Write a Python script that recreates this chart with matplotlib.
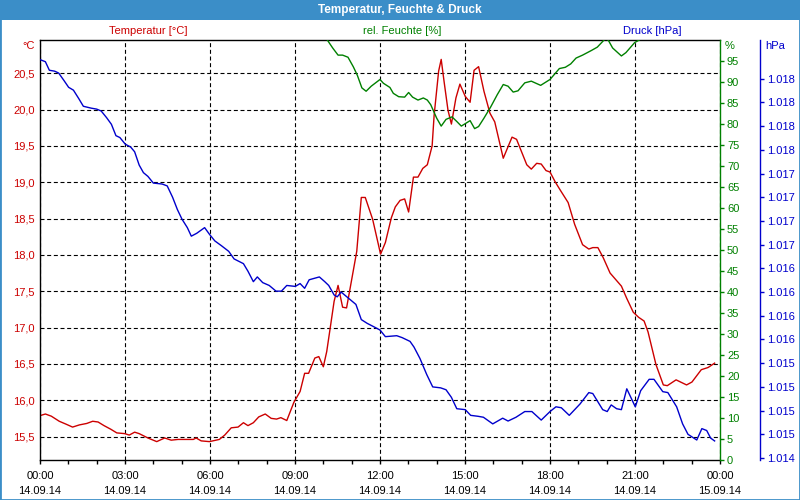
import numpy as np
import matplotlib
matplotlib.use('Agg')
import matplotlib.pyplot as plt
from matplotlib.patches import Rectangle
from matplotlib.ticker import MultipleLocator

plt.rcParams['font.family'] = ['Liberation Sans', 'DejaVu Sans']
plt.rcParams['font.size'] = 8

RED = '#cc0000'
GREEN = '#008000'
BLUE = '#0000cc'
BAR = '#3b8ec8'

# Temperatur [°C], Zeit in Stunden ab 14.09.14 00:00
t_temp = [0.02, 0.19, 0.40, 0.68, 0.92, 1.15, 1.39, 1.65, 1.86, 2.05, 2.26, 2.50, 2.71, 2.99,
          3.15, 3.34, 3.50, 3.81, 4.12, 4.40, 4.63, 4.87, 5.41, 5.51, 5.69, 5.98, 6.33, 6.52,
          6.75, 6.99, 7.18, 7.34, 7.53, 7.72, 7.95, 8.16, 8.35, 8.50, 8.71, 8.96, 9.18, 9.34,
          9.48, 9.70, 9.84, 10.00, 10.12, 10.26, 10.38, 10.52, 10.68, 10.82, 11.01, 11.18,
          11.34, 11.48, 11.74, 12.02, 12.19, 12.40, 12.54, 12.71, 12.87, 13.01, 13.18, 13.34,
          13.51, 13.67, 13.84, 13.91, 14.07, 14.16, 14.26, 14.40, 14.52, 14.68, 14.82, 15.01,
          15.18, 15.32, 15.48, 15.67, 15.88, 16.05, 16.35, 16.66, 16.82, 17.18, 17.34, 17.53,
          17.69, 17.86, 18.00, 18.19, 18.38, 18.64, 18.87, 19.15, 19.37, 19.51, 19.69, 19.88,
          20.12, 20.52, 20.71, 20.94, 21.13, 21.32, 21.46, 21.74, 22.00, 22.14, 22.45, 22.82,
          23.01, 23.34, 23.58, 23.81]
temp = [15.79, 15.81, 15.78, 15.71, 15.67, 15.63, 15.66, 15.68, 15.71, 15.70, 15.65, 15.60,
        15.55, 15.54, 15.52, 15.56, 15.54, 15.48, 15.43, 15.48, 15.45, 15.46, 15.46, 15.48,
        15.44, 15.43, 15.46, 15.52, 15.62, 15.63, 15.69, 15.65, 15.69, 15.77, 15.81, 15.75,
        15.74, 15.76, 15.72, 15.97, 16.12, 16.37, 16.37, 16.58, 16.60, 16.46, 16.67, 17.04,
        17.36, 17.58, 17.28, 17.27, 17.68, 18.05, 18.79, 18.79, 18.49, 18.01, 18.17, 18.51,
        18.66, 18.75, 18.77, 18.59, 19.07, 19.07, 19.19, 19.24, 19.50, 19.92, 20.53, 20.69,
        20.39, 19.99, 19.80, 20.16, 20.35, 20.18, 20.10, 20.54, 20.59, 20.25, 19.95, 19.83,
        19.33, 19.62, 19.59, 19.24, 19.18, 19.26, 19.25, 19.16, 19.14, 19.00, 18.88, 18.72,
        18.42, 18.14, 18.08, 18.10, 18.10, 17.96, 17.75, 17.57, 17.40, 17.21, 17.14, 17.09,
        16.94, 16.49, 16.21, 16.20, 16.28, 16.21, 16.25, 16.42, 16.45, 16.51]

# rel. Feuchte [%]
t_hum = [10.00, 10.16, 10.33, 10.52, 10.68, 10.87, 11.06, 11.20, 11.36, 11.51, 11.69, 12.00,
         12.12, 12.35, 12.47, 12.66, 12.87, 13.01, 13.15, 13.34, 13.53, 13.67, 13.79, 14.00,
         14.16, 14.33, 14.54, 14.71, 14.87, 15.18, 15.34, 15.48, 15.67, 15.91, 16.14, 16.35,
         16.52, 16.70, 16.87, 17.11, 17.34, 17.67, 18.00, 18.33, 18.54, 18.73, 18.92, 19.15,
         19.46, 19.67, 19.88, 19.98, 20.07, 20.21, 20.52, 20.68, 20.99, 21.15, 21.35]
hum = [101.6, 99.8, 98.1, 96.4, 96.4, 95.9, 93.6, 91.6, 88.6, 87.8, 89.0, 90.6,
       89.7, 88.7, 87.3, 86.5, 86.4, 87.5, 86.4, 85.7, 86.2, 85.7, 84.6, 81.4,
       79.5, 81.1, 81.7, 80.6, 79.5, 80.8, 78.9, 79.4, 81.4, 84.1, 87.0, 89.4,
       89.0, 87.6, 87.9, 89.8, 90.2, 89.2, 90.6, 93.2, 93.5, 94.3, 95.7, 96.4,
       97.5, 98.3, 99.8, 100.5, 99.8, 98.1, 96.2, 97.0, 99.4, 100.0, 101.7]

# Druck [hPa]
t_pres = [0.02, 0.19, 0.33, 0.52, 0.66, 0.85, 1.01, 1.18, 1.37, 1.53, 1.81, 2.00, 2.16, 2.35,
          2.52, 2.68, 2.82, 3.01, 3.20, 3.34, 3.50, 3.65, 3.81, 4.00, 4.31, 4.49, 4.68, 4.85,
          5.01, 5.20, 5.34, 5.53, 5.81, 5.98, 6.17, 6.40, 6.66, 6.85, 7.18, 7.34, 7.53, 7.67,
          7.86, 8.09, 8.33, 8.52, 8.71, 9.01, 9.18, 9.34, 9.50, 9.86, 10.05, 10.19, 10.38,
          10.49, 10.63, 10.87, 11.15, 11.34, 11.55, 11.81, 12.00, 12.19, 12.59, 12.78, 13.06,
          13.20, 13.41, 13.65, 13.86, 14.14, 14.33, 14.52, 14.71, 15.01, 15.20, 15.46, 15.65,
          15.98, 16.33, 16.52, 16.80, 17.11, 17.36, 17.69, 18.00, 18.21, 18.40, 18.68, 19.06,
          19.37, 19.51, 19.86, 20.02, 20.16, 20.35, 20.52, 20.71, 21.01, 21.20, 21.50, 21.67,
          21.98, 22.16, 22.47, 22.68, 22.87, 23.18, 23.36, 23.53, 23.67, 23.81]
pres = [1018.50, 1018.48, 1018.39, 1018.38, 1018.36, 1018.28, 1018.21, 1018.18, 1018.09,
        1018.01, 1017.99, 1017.98, 1017.96, 1017.89, 1017.82, 1017.70, 1017.68, 1017.61,
        1017.58, 1017.53, 1017.39, 1017.31, 1017.27, 1017.20, 1017.19, 1017.17, 1017.05,
        1016.92, 1016.82, 1016.73, 1016.64, 1016.67, 1016.73, 1016.66, 1016.59, 1016.54,
        1016.48, 1016.40, 1016.35, 1016.27, 1016.16, 1016.21, 1016.15, 1016.12, 1016.06,
        1016.06, 1016.12, 1016.11, 1016.14, 1016.09, 1016.18, 1016.21, 1016.16, 1016.12,
        1016.02, 1016.00, 1016.05, 1015.99, 1015.92, 1015.76, 1015.72, 1015.68, 1015.65,
        1015.58, 1015.59, 1015.57, 1015.53, 1015.47, 1015.35, 1015.18, 1015.05, 1015.04,
        1015.02, 1014.94, 1014.82, 1014.81, 1014.75, 1014.74, 1014.73, 1014.66, 1014.72,
        1014.69, 1014.73, 1014.79, 1014.79, 1014.70, 1014.79, 1014.84, 1014.83, 1014.75,
        1014.87, 1014.99, 1014.98, 1014.81, 1014.79, 1014.86, 1014.82, 1014.81, 1015.03,
        1014.84, 1015.01, 1015.13, 1015.13, 1015.00, 1014.99, 1014.84, 1014.66, 1014.55,
        1014.49, 1014.61, 1014.59, 1014.51, 1014.48]

x_ticks = [0, 3, 6, 9, 12, 15, 18, 21, 24]
x_tick_times = ['00:00', '03:00', '06:00', '09:00', '12:00', '15:00', '18:00', '21:00', '00:00']
x_tick_dates = ['14.09.14'] * 8 + ['15.09.14']

temp_ticks = [15.5, 16.0, 16.5, 17.0, 17.5, 18.0, 18.5, 19.0, 19.5, 20.0, 20.5]
temp_tick_labels = ['15,5', '16,0', '16,5', '17,0', '17,5', '18,0', '18,5', '19,0', '19,5',
                    '20,0', '20,5']
hum_ticks = list(range(0, 100, 5))
pres_ticks = list(np.arange(1014.3, 1018.35, 0.25))
pres_tick_labels = ['1.014'] + ['1.015'] * 4 + ['1.016'] * 4 + ['1.017'] * 4 + ['1.018'] * 4

fig = plt.figure(figsize=(8, 5), dpi=100)
fig.patch.set_facecolor('white')

ax = fig.add_axes([0.05, 0.08, 0.85, 0.84])
ax_h = ax.twinx()
ax_p = ax.twinx()

ax.plot(t_temp, temp, color=RED, lw=1)
ax_h.plot(t_hum, hum, color=GREEN, lw=1)
ax_p.plot(t_pres, pres, color=BLUE, lw=1)

ax.set_xlim(0, 24)
ax.set_ylim(15.177, 20.957)
ax_h.set_ylim(0, 100)
ax_p.set_ylim(1014.279, 1018.709)

# x-Achse
ax.set_xticks(x_ticks)
ax.set_xticklabels([f'{a}\n{b}' for a, b in zip(x_tick_times, x_tick_dates)], linespacing=1.55)
ax.xaxis.set_minor_locator(MultipleLocator(1))
ax.tick_params(axis='x', which='both', direction='out', length=3, width=1, pad=5, colors='black')

# Temperatur-Achse
ax.set_yticks(temp_ticks)
ax.set_yticklabels(temp_tick_labels)
ax.tick_params(axis='y', length=0, pad=4, labelcolor=RED)
ax.grid(True, which='major', color='black', linestyle=(0, (3.6, 2.4)), linewidth=0.8)
for s in ['left', 'top', 'bottom']:
    ax.spines[s].set_color('black')
    ax.spines[s].set_linewidth(1)
ax.spines['right'].set_visible(False)

# Feuchte-Achse
ax_h.set_yticks(hum_ticks)
ax_h.tick_params(axis='y', colors=GREEN, length=3, width=1, pad=2)
for s in ['left', 'top', 'bottom']:
    ax_h.spines[s].set_visible(False)
ax_h.spines['right'].set_color(GREEN)
ax_h.spines['right'].set_linewidth(1)

# Druck-Achse (40 px rechts der Feuchte-Achse)
ax_p.set_yticks(pres_ticks)
ax_p.set_yticklabels(pres_tick_labels)
ax_p.tick_params(axis='y', colors=BLUE, length=3, width=1, pad=2)
for s in ['left', 'top', 'bottom']:
    ax_p.spines[s].set_visible(False)
ax_p.spines['right'].set_position(('axes', 1 + 40 / 680))
ax_p.spines['right'].set_color(BLUE)
ax_p.spines['right'].set_linewidth(1)

# Einheiten und Legenden
fig.text(35 / 800, 1 - 46 / 500, '°C', color=RED, ha='right', va='center')
fig.text(725 / 800, 1 - 46 / 500, '%', color=GREEN, ha='left', va='center')
fig.text(765 / 800, 1 - 46 / 500, 'hPa', color=BLUE, ha='left', va='center')
fig.text(148 / 800, 1 - 31 / 500, 'Temperatur [°C]', color=RED, ha='center', va='center')
fig.text(402 / 800, 1 - 31 / 500, 'rel. Feuchte [%]', color=GREEN, ha='center', va='center')
fig.text(652 / 800, 1 - 31 / 500, 'Druck [hPa]', color=BLUE, ha='center', va='center')

# Titelleiste und Rahmen
fig.add_artist(Rectangle((0, 0.96), 1, 0.04, transform=fig.transFigure,
                         facecolor=BAR, edgecolor='none'))
fig.text(0.5, 0.98, 'Temperatur, Feuchte & Druck', color='white', weight='bold',
         ha='center', va='center', fontsize=8.5)
fig.add_artist(Rectangle((0, 0), 1, 1, transform=fig.transFigure, fill=False,
                         edgecolor=BAR, lw=2))

fig.savefig('out.png', dpi=100)
